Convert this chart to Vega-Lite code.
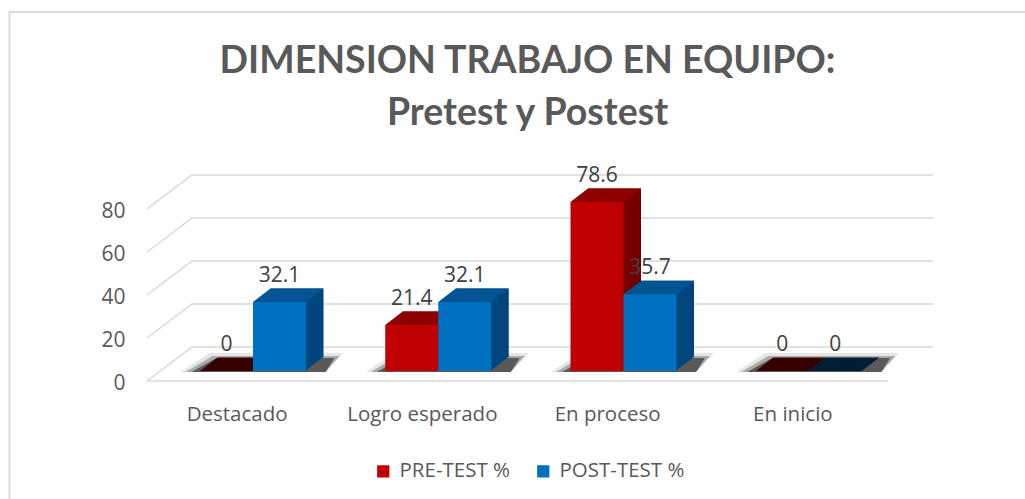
{
"$schema":"https://vega.github.io/schema/vega-lite/v6.json",
"width":741,"height":172,
"autosize":{"type":"none"},
"padding":{"left":147,"top":209,"right":137,"bottom":118},
"background":"white",
"config":{"view":{"stroke":null}},
"title":{"text":["DIMENSION TRABAJO EN EQUIPO:","Pretest y Postest"],"font":"Lato","fontWeight":"bold","fontSize":37.5,"color":"#595959","lineHeight":52,"anchor":"middle","frame":"group","dx":10,"offset":-124},
"data":{"values":[
{"nivel":"Destacado","serie":"PRE-TEST %","valor":0},
{"nivel":"Destacado","serie":"POST-TEST %","valor":32.1},
{"nivel":"Logro esperado","serie":"PRE-TEST %","valor":21.4},
{"nivel":"Logro esperado","serie":"POST-TEST %","valor":32.1},
{"nivel":"En proceso","serie":"PRE-TEST %","valor":78.6},
{"nivel":"En proceso","serie":"POST-TEST %","valor":35.7},
{"nivel":"En inicio","serie":"PRE-TEST %","valor":0},
{"nivel":"En inicio","serie":"POST-TEST %","valor":0}
]},
"resolve":{"scale":{"xOffset":"independent"}},
"encoding":{
"x":{"field":"nivel","type":"nominal","sort":null,"scale":{"domain":["Destacado","Logro esperado","En proceso","En inicio"],"paddingInner":0,"paddingOuter":0},
"axis":{"title":null,"labelAngle":0,"domain":false,"ticks":false,"labelFont":"Open Sans","labelFontSize":20.5,"labelColor":"#595959","labelPadding":23,"labelOffset":-2.5}},
"xOffset":{"field":"serie","sort":null,"scale":{"domain":["PRE-TEST %","POST-TEST %"],"range":[53,159],"paddingInner":0,"paddingOuter":0}},
"y":{"field":"valor","type":"quantitative","stack":null,"scale":{"domain":[0,80],"nice":false},
"axis":{"title":null,"values":[0,20,40,60,80],"grid":false,"domain":false,"ticks":false,"labelFont":"Open Sans","labelFontSize":21,"labelColor":"#595959","labelPadding":22,"labelOffset":2.5}},
"y2":{"datum":0}
},
"layer":[
{"data":{"values":[{"marca":0}]},
"mark":{"type":"point","shape":"M-137.5,118L-137.5,-369L878,-369","size":4,"filled":false,"stroke":"#DCDCDC","strokeWidth":2,"opacity":1},
"encoding":{"x":{"datum":"Destacado"},"xOffset":{"value":0},"y":{"field":"marca","type":"quantitative"},"y2":null}},
{"data":{"values":[{"marca":0},{"marca":20},{"marca":40},{"marca":60},{"marca":80}]},
"mark":{"type":"point","shape":"M0,0L45,-34L786,-34","size":4,"filled":false,"stroke":"#D9D9D9","strokeWidth":1.5,"opacity":1},
"encoding":{"x":{"datum":"Destacado"},"xOffset":{"value":0},"y":{"field":"marca","type":"quantitative"},"y2":null}},
{"data":{"values":[{"marca":0}]},
"mark":{"type":"point","shape":"M0,0L741,0","size":4,"filled":false,"stroke":"#D9D9D9","strokeWidth":1.5,"opacity":1},
"encoding":{"x":{"datum":"Destacado"},"xOffset":{"value":0},"y":{"field":"marca","type":"quantitative"},"y2":null}},
{"mark":{"type":"point","shape":"M-19.5,1L72.5,1L90.5,-18L9.5,-18Z","size":4,"filled":true,"opacity":1,"color":"#E6E6E6","yOffset":-10},"encoding":{"xOffset":{"field":"serie","sort":null,"scale":{"domain":["PRE-TEST %","POST-TEST %"],"range":[53,106],"paddingOuter":0}},"y":{"datum":0},"y2":null}},
{"mark":{"type":"point","shape":"M-14.5,1L72.5,1L86.5,-15L12.5,-15Z","size":4,"filled":true,"opacity":1,"color":"#ABABAB","yOffset":-10},"encoding":{"xOffset":{"field":"serie","sort":null,"scale":{"domain":["PRE-TEST %","POST-TEST %"],"range":[53,106],"paddingOuter":0}},"y":{"datum":0},"y2":null}},
{"mark":{"type":"point","shape":"M-8.5,1L72.5,1L81.5,-13L16.5,-13Z","size":4,"filled":true,"opacity":1,"color":"#595959","yOffset":-10},"encoding":{"xOffset":{"field":"serie","sort":null,"scale":{"domain":["PRE-TEST %","POST-TEST %"],"range":[53,106],"paddingOuter":0}},"y":{"datum":0},"y2":null}},
{"mark":{"type":"bar","yOffset":-11.5,"y2Offset":-11.5,"color":{"expr":"datum.serie=='PRE-TEST %'?'#750000':'#00457B'"}},"encoding":{"xOffset":{"field":"serie","sort":null,"scale":{"domain":["PRE-TEST %","POST-TEST %"],"range":[54.9,160.9],"paddingInner":0,"paddingOuter":0}}}},
{"mark":{"type":"bar","yOffset":-13,"y2Offset":-13,"color":{"expr":"datum.serie=='PRE-TEST %'?'#750000':'#00457B'"}},"encoding":{"xOffset":{"field":"serie","sort":null,"scale":{"domain":["PRE-TEST %","POST-TEST %"],"range":[56.9,162.9],"paddingInner":0,"paddingOuter":0}}}},
{"mark":{"type":"bar","yOffset":-14.5,"y2Offset":-14.5,"color":{"expr":"datum.serie=='PRE-TEST %'?'#750000':'#00457B'"}},"encoding":{"xOffset":{"field":"serie","sort":null,"scale":{"domain":["PRE-TEST %","POST-TEST %"],"range":[58.8,164.8],"paddingInner":0,"paddingOuter":0}}}},
{"mark":{"type":"bar","yOffset":-16,"y2Offset":-16,"color":{"expr":"datum.serie=='PRE-TEST %'?'#750000':'#00457B'"}},"encoding":{"xOffset":{"field":"serie","sort":null,"scale":{"domain":["PRE-TEST %","POST-TEST %"],"range":[60.8,166.8],"paddingInner":0,"paddingOuter":0}}}},
{"mark":{"type":"bar","yOffset":-17.5,"y2Offset":-17.5,"color":{"expr":"datum.serie=='PRE-TEST %'?'#750000':'#00457B'"}},"encoding":{"xOffset":{"field":"serie","sort":null,"scale":{"domain":["PRE-TEST %","POST-TEST %"],"range":[62.7,168.7],"paddingInner":0,"paddingOuter":0}}}},
{"mark":{"type":"bar","yOffset":-19,"y2Offset":-19,"color":{"expr":"datum.serie=='PRE-TEST %'?'#750000':'#00457B'"}},"encoding":{"xOffset":{"field":"serie","sort":null,"scale":{"domain":["PRE-TEST %","POST-TEST %"],"range":[64.6,170.6],"paddingInner":0,"paddingOuter":0}}}},
{"mark":{"type":"bar","yOffset":-20.5,"y2Offset":-20.5,"color":{"expr":"datum.serie=='PRE-TEST %'?'#750000':'#00457B'"}},"encoding":{"xOffset":{"field":"serie","sort":null,"scale":{"domain":["PRE-TEST %","POST-TEST %"],"range":[66.6,172.6],"paddingInner":0,"paddingOuter":0}}}},
{"mark":{"type":"bar","yOffset":-22,"y2Offset":-22,"color":{"expr":"datum.serie=='PRE-TEST %'?'#750000':'#00457B'"}},"encoding":{"xOffset":{"field":"serie","sort":null,"scale":{"domain":["PRE-TEST %","POST-TEST %"],"range":[68.5,174.5],"paddingInner":0,"paddingOuter":0}}}},
{"mark":{"type":"bar","yOffset":-23.5,"y2Offset":-23.5,"color":{"expr":"datum.serie=='PRE-TEST %'?'#750000':'#00457B'"}},"encoding":{"xOffset":{"field":"serie","sort":null,"scale":{"domain":["PRE-TEST %","POST-TEST %"],"range":[70.5,176.5],"paddingInner":0,"paddingOuter":0}}}},
{"mark":{"type":"point","shape":"M0,0L53,0L70.5,-13.5L17.5,-13.5Z","size":4,"filled":true,"opacity":1,"yOffset":-10},
"encoding":{"xOffset":{"field":"serie","sort":null,"scale":{"domain":["PRE-TEST %","POST-TEST %"],"range":[53,106],"paddingOuter":0}},"y2":null,"color":{"value":"#005493","condition":[{"test":"datum.valor==0 && datum.serie=='PRE-TEST %'","value":"#350000"},{"test":"datum.valor==0","value":"#001E33"},{"test":"datum.serie=='PRE-TEST %'","value":"#8F0000"}]}}},
{"mark":{"type":"bar","yOffset":-10,"y2Offset":-10},
"encoding":{"color":{"field":"serie","type":"nominal","sort":null,"scale":{"domain":["PRE-TEST %","POST-TEST %"],"range":["#C00000","#0070C0"]},
"legend":{"title":null,"orient":"none","legendX":226,"legendY":252,"direction":"horizontal","symbolType":"square","symbolSize":150,"symbolStrokeWidth":0,"labelFont":"Open Sans","labelFontSize":20.5,"labelColor":"#595959","columnPadding":23,"labelOffset":6}}}},
{"mark":{"type":"text","font":"Open Sans","fontSize":21,"color":"#404040","baseline":"middle","dy":-36,"dx":26.5},"encoding":{"xOffset":{"field":"serie","sort":null,"scale":{"domain":["PRE-TEST %","POST-TEST %"],"range":[53,106],"paddingOuter":0}},"y2":null,"text":{"field":"valor","type":"quantitative"}}}
]
}
